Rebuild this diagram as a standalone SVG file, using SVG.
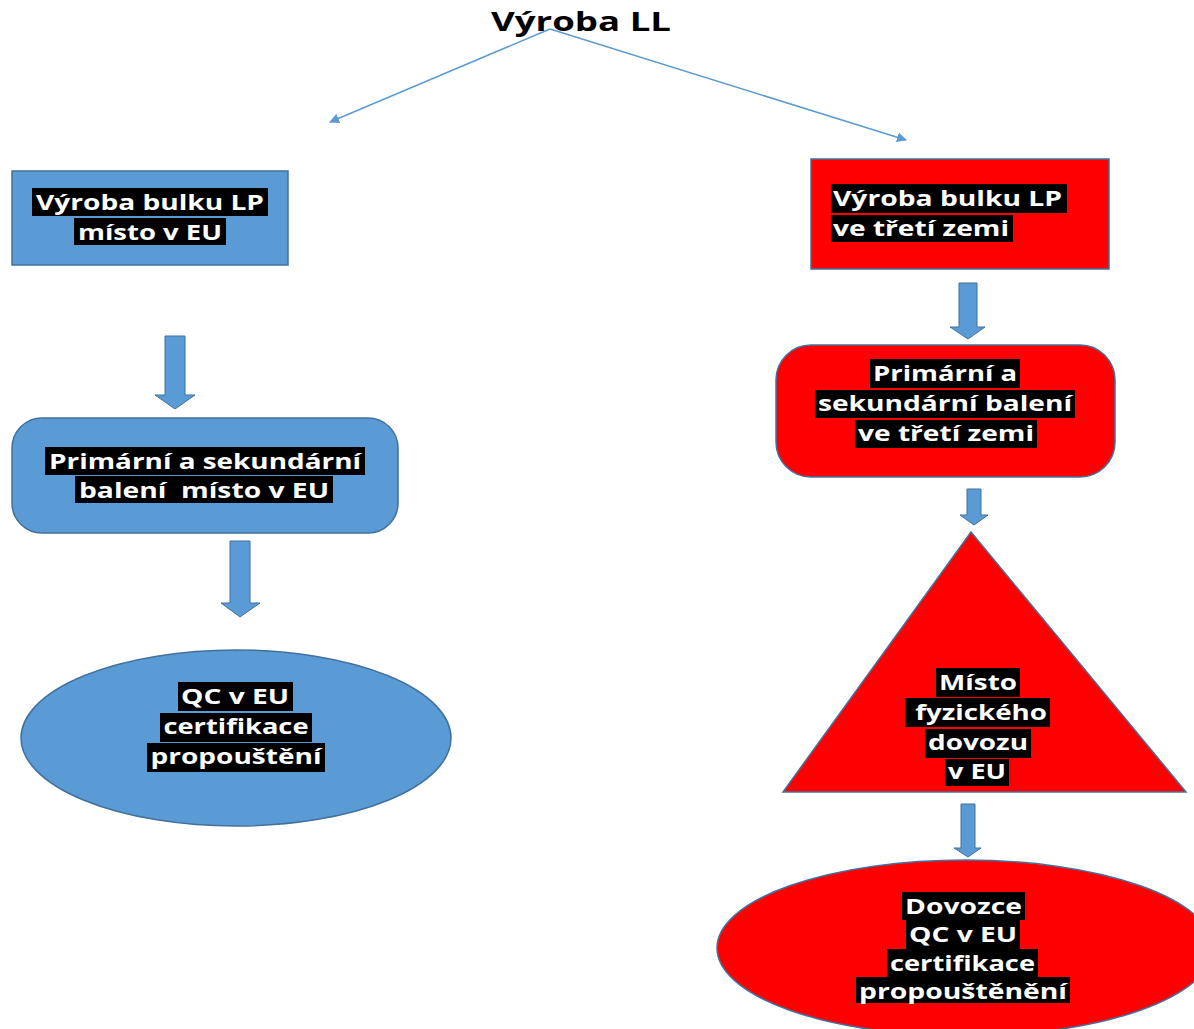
<svg xmlns="http://www.w3.org/2000/svg" width="1194" height="1029" viewBox="0 0 1194 1029">
<style>
.blue{fill:#5b9bd5;stroke:#41719c;stroke-width:1.5}
.red{fill:#ff0000;stroke:#41719c;stroke-width:1.5}
.hl{fill:#000}
.t{font-family:"Open Sans","Liberation Sans",sans-serif;font-weight:bold;font-size:22px;fill:#fff;text-anchor:middle}
.tl{text-anchor:start}
.title{font-family:"Open Sans","Liberation Sans",sans-serif;font-weight:bold;font-size:27px;fill:#000;text-anchor:middle}
.line{stroke:#5b9bd5;stroke-width:1.5;fill:none}
.barrow{fill:#5b9bd5;stroke:#41719c;stroke-width:1}
</style>
<defs>
<marker id="ah" viewBox="0 0 10 10" refX="9" refY="5" markerWidth="10" markerHeight="10" markerUnits="userSpaceOnUse" orient="auto">
<path d="M0,0 L10,5 L0,10 z" fill="#5b9bd5"/>
</marker>
</defs>
<rect width="1194" height="1029" fill="#fff"/>
<g id="title"><text class="title" x="581" y="31" textLength="180" lengthAdjust="spacingAndGlyphs">Výroba LL</text></g>
<g id="connectors">
<path class="line" d="M550,29 L330,122" marker-end="url(#ah)"/>
<path class="line" d="M550,29 L906,140" marker-end="url(#ah)"/>
<path class="barrow" d="M165,336 H185 V395 H195 L175,409 L155,395 H165 Z"/>
<path class="barrow" d="M230,541 H250 V603 H260 L240,617 L221,603 H230 Z"/>
<path class="barrow" d="M959,283 H977 V327 H985 L968,339 L950,327 H959 Z"/>
<path class="barrow" d="M967,489 H981 V515 H988 L974,525 L960,515 H967 Z"/>
<path class="barrow" d="M961,804 H975 V848 H981 L968,857 L954,848 H961 Z"/>
</g>
<g id="left-bulk">
<rect class="blue" x="12" y="171" width="276" height="94"/>
<rect class="hl" x="32" y="188" width="236" height="28"/>
<rect class="hl" x="74" y="218" width="152" height="27"/>
<text class="t" x="150" y="210" textLength="228" lengthAdjust="spacingAndGlyphs">Výroba bulku LP</text>
<text class="t" x="150" y="240" textLength="144" lengthAdjust="spacingAndGlyphs">místo v EU</text>
</g>
<g id="left-packaging">
<rect class="blue" x="12" y="418" width="386" height="115" rx="30"/>
<rect class="hl" x="45" y="447" width="320" height="28"/>
<rect class="hl" x="75" y="476" width="258" height="27"/>
<text class="t" x="205" y="469" textLength="312" lengthAdjust="spacingAndGlyphs">Primární a sekundární</text>
<text class="t" x="204" y="498" xml:space="preserve" textLength="250" lengthAdjust="spacingAndGlyphs">balení  místo v EU</text>
</g>
<g id="left-qc">
<ellipse class="blue" cx="236" cy="738" rx="215" ry="88"/>
<rect class="hl" x="178" y="682" width="115" height="29"/>
<rect class="hl" x="160" y="713" width="152" height="29"/>
<rect class="hl" x="147" y="743" width="178" height="29"/>
<text class="t" x="235" y="704" textLength="108" lengthAdjust="spacingAndGlyphs">QC v EU</text>
<text class="t" x="236" y="734" textLength="145" lengthAdjust="spacingAndGlyphs">certifikace</text>
<text class="t" x="236" y="764" textLength="171" lengthAdjust="spacingAndGlyphs">propouštění</text>
</g>
<g id="right-bulk">
<rect class="red" x="811" y="159" width="298" height="110"/>
<rect class="hl" x="831" y="184" width="236" height="29"/>
<rect class="hl" x="831" y="215" width="182" height="27"/>
<text class="t tl" x="833" y="206" textLength="229" lengthAdjust="spacingAndGlyphs">Výroba bulku LP</text>
<text class="t tl" x="833" y="236" textLength="176" lengthAdjust="spacingAndGlyphs">ve třetí zemi</text>
</g>
<g id="right-packaging">
<rect class="red" x="776" y="345" width="339" height="132" rx="35"/>
<rect class="hl" x="870" y="359" width="150" height="29"/>
<rect class="hl" x="815" y="390" width="260" height="28"/>
<rect class="hl" x="855" y="420" width="182" height="28"/>
<text class="t" x="945" y="381" textLength="144" lengthAdjust="spacingAndGlyphs">Primární a</text>
<text class="t" x="945" y="411" textLength="254" lengthAdjust="spacingAndGlyphs">sekundární balení</text>
<text class="t" x="946" y="441" textLength="176" lengthAdjust="spacingAndGlyphs">ve třetí zemi</text>
</g>
<g id="right-import">
<path class="red" d="M971,532 L1186,792 L783,792 Z"/>
<rect class="hl" x="936" y="668" width="84" height="29"/>
<rect class="hl" x="905" y="698" width="145" height="29"/>
<rect class="hl" x="925" y="729" width="106" height="29"/>
<rect class="hl" x="945" y="759" width="64" height="27"/>
<text class="t" x="978" y="690" textLength="78" lengthAdjust="spacingAndGlyphs">Místo</text>
<text class="t" x="977.5" y="720" xml:space="preserve" textLength="139" lengthAdjust="spacingAndGlyphs"> fyzického</text>
<text class="t" x="978" y="750" textLength="100" lengthAdjust="spacingAndGlyphs">dovozu</text>
<text class="t" x="977" y="779" textLength="58" lengthAdjust="spacingAndGlyphs">v EU</text>
</g>
<g id="right-qc">
<ellipse class="red" cx="965" cy="948" rx="248" ry="88"/>
<rect class="hl" x="902" y="892" width="123" height="28"/>
<rect class="hl" x="906" y="920" width="114" height="29"/>
<rect class="hl" x="887" y="949" width="151" height="28"/>
<rect class="hl" x="856" y="977" width="214" height="26"/>
<text class="t" x="963.5" y="914" textLength="117" lengthAdjust="spacingAndGlyphs">Dovozce</text>
<text class="t" x="963" y="942" textLength="108" lengthAdjust="spacingAndGlyphs">QC v EU</text>
<text class="t" x="962.5" y="971" textLength="145" lengthAdjust="spacingAndGlyphs">certifikace</text>
<text class="t" x="963" y="999" textLength="208" lengthAdjust="spacingAndGlyphs">propouštěnění</text>
</g>
</svg>
